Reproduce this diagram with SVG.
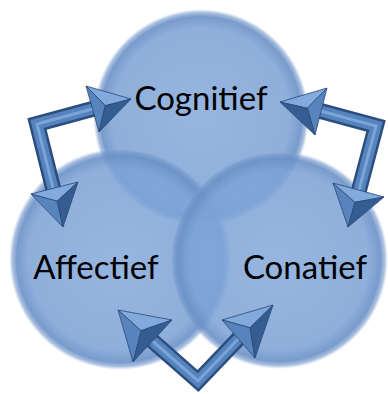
<svg xmlns="http://www.w3.org/2000/svg" width="388" height="394" viewBox="0 0 388 394">
  <defs>
    <radialGradient id="disc" cx="50%" cy="50%" r="50%">
      <stop offset="0%" stop-color="#85aadb" stop-opacity="0.86"/>
      <stop offset="82%" stop-color="#7da2d5" stop-opacity="0.86"/>
      <stop offset="93%" stop-color="#6a90c6" stop-opacity="0.9"/>
      <stop offset="97%" stop-color="#7397cb" stop-opacity="0.6"/>
      <stop offset="100%" stop-color="#9ab7df" stop-opacity="0"/>
    </radialGradient>
  </defs>
  <style>
    .disc { fill: url(#disc); }
    .label { font-family: "Lato", "Liberation Sans", sans-serif; font-size: 33px; fill: #000; text-anchor: middle; }
    .shaft-dark { fill: none; stroke: #2c4e7e; stroke-width: 16; stroke-linejoin: miter; }
    .shaft-mid { fill: none; stroke: #5483bd; stroke-width: 11; stroke-linejoin: miter; }
    .shaft-hi { fill: none; stroke: #8cb2e2; stroke-width: 3; stroke-linejoin: miter; opacity: 0.7; }
    .f-light { fill: #82aadd; stroke: #2a4875; stroke-width: 0.8; stroke-linejoin: round; }
    .f-mid { fill: #5884bd; stroke: #2a4875; stroke-width: 0.8; stroke-linejoin: round; }
    .f-dark { fill: #365d91; stroke: #2a4875; stroke-width: 0.8; stroke-linejoin: round; }
  </style>

  <!-- three overlapping discs -->
  <g id="node-cognitief">
    <circle class="disc" cx="201" cy="117" r="108"/>
    <text class="label" x="201" y="110">Cognitief</text>
  </g>
  <g id="node-affectief">
    <circle class="disc" cx="120" cy="259" r="111"/>
    <text class="label" x="96" y="279">Affectief</text>
  </g>
  <g id="node-conatief">
    <circle class="disc" cx="279" cy="260" r="109"/>
    <text class="label" x="305" y="279">Conatief</text>
  </g>

  <!-- bent double-headed arrows between the discs -->
  <g id="connectors">
    <g id="arrow-left">
      <polyline class="shaft-dark" points="96,108 37,124 54,192"/>
      <polyline class="shaft-mid" points="96,108 37,124 54,192"/>
      <polyline class="shaft-hi" points="96,108 37,124 54,192"/>
      <polygon class="f-light" points="131,99 86,86 105.3,105.7"/>
      <polygon class="f-mid" points="86,86 99,132 105.3,105.7"/>
      <polygon class="f-dark" points="99,132 131,99 105.3,105.7"/>
      <polygon class="f-mid" points="63,227 31,194 57.3,201"/>
      <polygon class="f-light" points="31,194 78,182 57.3,201"/>
      <polygon class="f-dark" points="78,182 63,227 57.3,201"/>
    </g>
    <g id="arrow-right">
      <polyline class="shaft-dark" points="317,110 376,126 358,194"/>
      <polyline class="shaft-mid" points="317,110 376,126 358,194"/>
      <polyline class="shaft-hi" points="317,110 376,126 358,194"/>
      <polygon class="f-light" points="280,102 327,88 307.3,108.3"/>
      <polygon class="f-mid" points="327,88 315,135 307.3,108.3"/>
      <polygon class="f-dark" points="315,135 280,102 307.3,108.3"/>
      <polygon class="f-mid" points="348,227 333,183 355,202.3"/>
      <polygon class="f-light" points="333,183 384,197 355,202.3"/>
      <polygon class="f-dark" points="384,197 348,227 355,202.3"/>
    </g>
    <g id="arrow-bottom">
      <polyline class="shaft-dark" points="148,337 198,381 242,335"/>
      <polyline class="shaft-mid" points="148,337 198,381 242,335"/>
      <polyline class="shaft-hi" points="148,337 198,381 242,335"/>
      <polygon class="f-light" points="118,310 172,320 141,330.7"/>
      <polygon class="f-dark" points="172,320 133,362 141,330.7"/>
      <polygon class="f-mid" points="133,362 118,310 141,330.7"/>
      <polygon class="f-light" points="273,305 222,320 250,327.7"/>
      <polygon class="f-mid" points="222,320 255,358 250,327.7"/>
      <polygon class="f-dark" points="255,358 273,305 250,327.7"/>
    </g>
  </g>
</svg>
